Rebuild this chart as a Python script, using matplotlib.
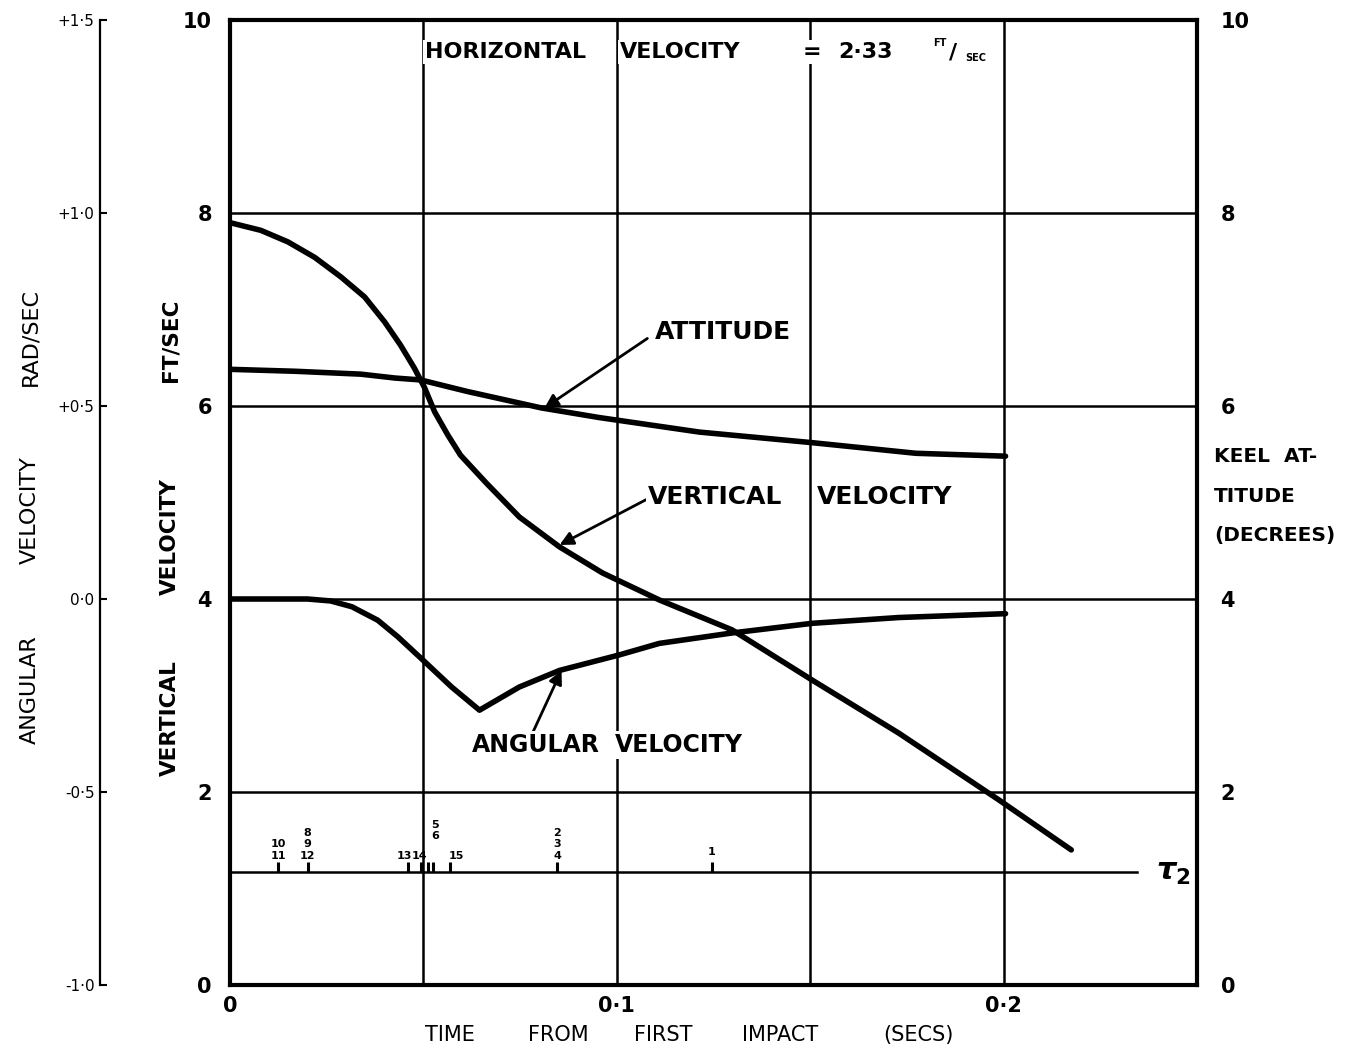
import matplotlib
matplotlib.use('Agg')
import numpy as np
import matplotlib.pyplot as plt

# vertical velocity (ft/sec)
t_vert = [0.0, 0.008, 0.015, 0.0219, 0.0286, 0.0348, 0.040, 0.0441, 0.0477,
          0.0503, 0.0529, 0.0563, 0.0596, 0.0663, 0.0748, 0.0852, 0.0963,
          0.111, 0.1298, 0.1505, 0.1729, 0.1987, 0.2175]
vert_vel = [7.90, 7.82, 7.70, 7.54, 7.34, 7.13, 6.87, 6.63, 6.39,
            6.19, 5.94, 5.70, 5.49, 5.20, 4.85, 4.54, 4.27,
            3.99, 3.68, 3.16, 2.61, 1.92, 1.40]

# keel attitude (degrees)
t_att = [0.0, 0.0168, 0.0338, 0.0426, 0.0493, 0.0614, 0.0805, 0.0955, 0.1213,
         0.1505, 0.1773, 0.2005]
attitude = [6.38, 6.36, 6.33, 6.29, 6.27, 6.15, 5.98, 5.88, 5.73, 5.62, 5.51, 5.48]

# angular velocity (rad/sec)
t_ang = [0.0, 0.020, 0.026, 0.0315, 0.0382, 0.0434, 0.049, 0.0573, 0.0645,
         0.0748, 0.0852, 0.1006, 0.111, 0.1298, 0.1505, 0.1729, 0.2005]
ang_vel = [0.0, 0.0, -0.005, -0.02, -0.055, -0.098, -0.15, -0.228, -0.288,
           -0.228, -0.185, -0.145, -0.115, -0.088, -0.063, -0.048, -0.038]

# tau_2 event marks
tau_level = 1.17
tau_end = 0.2345
tau_t = [0.0124, 0.0201, 0.0459, 0.0495, 0.0511, 0.0524, 0.0568, 0.0846, 0.1246]
tau_lab_t = [0.0124, 0.0201, 0.0451, 0.0490, 0.0530, 0.0586, 0.0846, 0.1246]
tau_labels = ['10\n11', '8\n9\n12', '13', '14', '5\n6', '15', '2\n3\n4', '1']
tau_lift = [0.12, 0.12, 0.12, 0.12, 0.32, 0.12, 0.12, 0.16]

y_ticks = [0, 2, 4, 6, 8, 10]
x_ticks = [0, 0.05, 0.1, 0.15, 0.2]
x_ticklabels = ['0', '', '0·1', '', '0·2']
ang_ticks = [-1.0, -0.5, 0.0, 0.5, 1.0, 1.5]
ang_ticklabels = ['-1·0', '-0·5', '0·0', '+0·5', '+1·0', '+1·5']

plt.rcParams['font.family'] = 'DejaVu Sans'
plt.rcParams['font.weight'] = 'bold'

W, H = 1356, 1055
fig = plt.figure(figsize=(W / 100, H / 100), dpi=100)
fig.patch.set_facecolor('white')


def px(x, y):
    # pixel position in the picture -> figure fraction
    return x / W, 1 - y / H


L, R, T, B = 230, 1197, 20, 985
ax = fig.add_axes([L / W, 1 - B / H, (R - L) / W, (B - T) / H])
ax.set_xlim(0, 0.25)
ax.set_ylim(0, 10)
for s in ax.spines.values():
    s.set_linewidth(3.0)
ax.set_xticks(x_ticks)
ax.set_xticklabels(x_ticklabels)
ax.set_yticks(y_ticks)
ax.grid(True, color='black', linewidth=1.8)
ax.tick_params(axis='both', length=0, labelsize=15)
ax.tick_params(axis='y', pad=13)
ax.tick_params(axis='x', pad=8)

# vertical velocity on main axis
ax.plot(t_vert, vert_vel, color='black', lw=4.0, solid_capstyle='round',
        solid_joinstyle='round', zorder=4)

# tau_2 line with event marks
ax.plot([0, tau_end], [tau_level, tau_level], color='black', lw=1.8, zorder=4)
ax.vlines(tau_t, tau_level, tau_level + 0.1, color='black', lw=2.2, zorder=4)
for tt, lab, lift in zip(tau_lab_t, tau_labels, tau_lift):
    ax.text(tt, tau_level + lift, lab, ha='center', va='bottom', fontsize=8,
            linespacing=1.15, zorder=5)
ax.text(0.2395, tau_level, r'$\tau_2$', fontsize=22, fontweight='normal',
        ha='left', va='center')

# attitude on right axis
ax_r = ax.twinx()
ax_r.set_ylim(0, 10)
ax_r.set_yticks(y_ticks)
ax_r.tick_params(axis='y', length=0, labelsize=15, pad=17)
for s in ax_r.spines.values():
    s.set_visible(False)
ax_r.plot(t_att, attitude, color='black', lw=4.0, solid_capstyle='round',
          solid_joinstyle='round')

# angular velocity on detached left axis
ax_a = ax.twinx()
ax_a.set_ylim(-1.0, 1.5)
for k, s in ax_a.spines.items():
    s.set_visible(k == 'left')
ax_a.spines['left'].set_position(('axes', -130 / (R - L)))
ax_a.spines['left'].set_linewidth(1.6)
ax_a.yaxis.set_ticks_position('left')
ax_a.yaxis.set_label_position('left')
ax_a.set_yticks(ang_ticks)
ax_a.set_yticklabels(ang_ticklabels)
ax_a.tick_params(axis='y', direction='in', length=5, width=1.5, labelsize=11, pad=4)
for lab in ax_a.get_yticklabels():
    lab.set_fontweight('normal')
ax_a.plot(t_ang, ang_vel, color='black', lw=4.0, solid_capstyle='round',
          solid_joinstyle='round')

# annotations
box = dict(facecolor='white', edgecolor='none', pad=1.5)
arrow = dict(arrowstyle='-|>', color='black', lw=2.0, mutation_scale=20,
             shrinkA=0, shrinkB=0)

for word, x, ha in [('HORIZONTAL', 425, 'left'), ('VELOCITY', 620, 'left'),
                    ('=', 812, 'center'), ('2·33', 838, 'left')]:
    fig.text(*px(x, 52), word, fontsize=16, ha=ha, va='center', bbox=box)
fig.text(*px(940, 43), 'FT', fontsize=7, ha='center', va='center')
fig.text(*px(953, 52), '/', fontsize=16, ha='center', va='center')
fig.text(*px(976, 58), 'SEC', fontsize=7, ha='center', va='center')

labels = [('ATTITUDE', 655, 332, 18), ('VERTICAL', 648, 497, 18),
          ('VELOCITY', 817, 497, 18), ('ANGULAR', 472, 745, 17),
          ('VELOCITY', 615, 745, 17)]
for word, x, y, size in labels:
    fig.text(*px(x, y), word, fontsize=size, ha='left', va='center', bbox=box,
             zorder=5)

# arrows: (tail, head) in data coords
arrows = [((0.1079, 6.70), (0.0813, 5.98)),
          ((0.1076, 5.03), (0.0852, 4.56)),
          ((0.0782, 2.61), (0.0857, 3.26))]
for tail, head in arrows:
    ax.annotate('', xy=head, xytext=tail, arrowprops=arrow, zorder=5)

# axis titles
for word, yc in [('VERTICAL', 718), ('VELOCITY', 537), ('FT/SEC', 340)]:
    fig.text(*px(170, yc), word, rotation=90, fontsize=15.5,
             ha='center', va='center')
for word, yc in [('ANGULAR', 690), ('VELOCITY', 510), ('RAD/SEC', 337)]:
    fig.text(*px(30, yc), word, rotation=90, fontsize=16, fontweight='normal',
             ha='center', va='center')
for word, yc in [('KEEL  AT-', 457), ('TITUDE', 497), ('(DECREES)', 535)]:
    fig.text(*px(1214, yc), word, fontsize=14.5, ha='left', va='center')
for word, xc in [('TIME', 450), ('FROM', 558), ('FIRST', 663), ('IMPACT', 780),
                 ('(SECS)', 918)]:
    fig.text(*px(xc, 1035), word, fontsize=15, fontweight='normal',
             ha='center', va='center')

plt.savefig('out.png', dpi=100)
